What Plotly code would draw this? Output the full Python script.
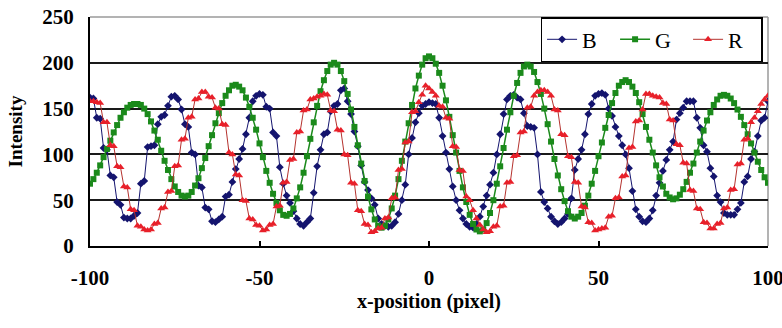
import plotly.graph_objects as go

x_pos = list(range(-100, 101))

blue_B = [
    162, 161, 140, 139, 107, 105, 77, 75, 48, 45,
    31, 30, 30, 33, 36, 68, 71, 108, 109, 110,
    133, 141, 143, 153, 163, 164, 160, 149, 133, 130,
    102, 100, 66, 64, 42, 40, 27, 26, 29, 32,
    54, 56, 70, 84, 95, 106, 122, 140, 158, 164,
    166, 165, 152, 150, 124, 120, 86, 68, 55, 47,
    38, 30, 24, 22, 26, 30, 58, 87, 105, 122,
    124, 147, 153, 155, 170, 172, 158, 144, 125, 109,
    88, 70, 61, 52, 45, 30, 24, 22, 21, 22,
    26, 35, 50, 67, 100, 118, 135, 145, 153, 155,
    157,
    156, 155, 140, 120, 102, 84, 65, 50, 39, 30,
    24, 21, 20, 24, 32, 43, 55, 67, 80, 100,
    122, 144, 160, 164, 165, 162, 160, 145, 131, 130,
    129, 100, 59, 48, 41, 32, 27, 24, 26, 30,
    35, 52, 83, 95, 105, 122, 144, 155, 164, 166,
    167, 165, 150, 142, 130, 120, 110, 100, 85, 60,
    40, 32, 27, 26, 30, 39, 55, 69, 82, 94,
    105, 114, 138, 145, 151, 158, 158, 158, 140, 129,
    110, 103, 85, 76, 55, 48, 36, 34, 34, 34,
    40, 47, 70, 76, 95, 103, 120, 137, 140, 158,
]

green_G = [
    68, 73, 80, 88, 97, 106, 115, 124, 132, 140,
    146, 151, 154, 155, 155, 154, 150, 144, 136, 126,
    116, 104, 93, 83, 73, 65, 59, 55, 54, 55,
    59, 66, 74, 85, 96, 109, 121, 134, 145, 156,
    164, 170, 175, 176, 174, 170, 162, 152, 140, 127,
    112, 97, 82, 69, 57, 47, 39, 34, 33, 35,
    41, 52, 64, 80, 98, 117, 135, 153, 169, 181,
    191, 198, 200, 198, 191, 180, 166, 149, 130, 110,
    90, 71, 54, 40, 29, 22, 20, 22, 29, 41,
    55, 73, 93, 114, 134, 154, 172, 186, 198, 205,
    207,
    205, 199, 189, 175, 159, 141, 121, 102, 82, 64,
    48, 34, 24, 18, 16, 18, 25, 36, 50, 68,
    87, 107, 127, 146, 164, 178, 189, 196, 198, 196,
    190, 179, 166, 150, 133, 114, 95, 77, 62, 49,
    38, 32, 30, 32, 36, 44, 55, 68, 82, 98,
    113, 129, 143, 156, 167, 175, 179, 181, 179, 174,
    167, 157, 144, 130, 116, 102, 88, 75, 65, 57,
    53, 51, 52, 56, 62, 70, 80, 90, 102, 114,
    126, 137, 146, 154, 160, 164, 165, 164, 161, 156,
    149, 141, 132, 122, 112, 102, 92, 83, 75, 69,
]

red_R = [
    158, 158, 157, 156, 135, 135, 110, 109, 87, 86,
    65, 64, 40, 39, 22, 21, 18, 17, 18, 24,
    25, 41, 42, 59, 60, 87, 88, 116, 117, 140,
    141, 160, 161, 168, 168, 163, 162, 151, 150, 133,
    132, 102, 100, 78, 77, 50, 49, 30, 29, 23,
    22, 17, 18, 23, 24, 43, 44, 69, 70, 94,
    95, 124, 125, 148, 149, 160, 161, 163, 164, 166,
    165, 148, 147, 127, 126, 100, 99, 69, 68, 39,
    38, 24, 23, 15, 16, 19, 20, 30, 31, 52,
    53, 83, 84, 113, 114, 146, 147, 157, 165, 175,
    172,
    168, 164, 153, 152, 140, 139, 109, 108, 83, 82,
    54, 50, 39, 30, 23, 18, 15, 16, 21, 22,
    43, 44, 69, 70, 98, 99, 124, 125, 151, 152,
    164, 168, 170, 170, 168, 164, 149, 148, 122, 121,
    98, 97, 70, 69, 43, 42, 26, 25, 17, 18,
    19, 20, 32, 33, 52, 53, 76, 77, 107, 108,
    136, 137, 149, 166, 166, 164, 163, 162, 156, 155,
    138, 137, 111, 110, 91, 90, 61, 60, 41, 40,
    26, 25, 19, 19, 24, 25, 41, 42, 61, 62,
    89, 90, 116, 117, 135, 140, 147, 155, 160, 164,
]

series_names = ["B", "G", "R"]
y_ticks = [0, 50, 100, 150, 200, 250]
x_ticks = [-100, -50, 0, 50, 100]
x_title = "x-position (pixel)"
y_title = "Intensity"

assert len(blue_B) == len(green_G) == len(red_R) == len(x_pos)

SERIF = "Liberation Serif, Times New Roman, serif"

fig = go.Figure()
fig.add_trace(go.Scatter(
    x=x_pos, y=blue_B, name=series_names[0], mode="lines+markers",
    line=dict(color="#14146e", width=1),
    marker=dict(symbol="diamond", size=6, color="#14146e"),
))
fig.add_trace(go.Scatter(
    x=x_pos, y=green_G, name=series_names[1], mode="lines+markers",
    line=dict(color="#1b8a1b", width=1.5),
    marker=dict(symbol="square", size=6, color="#1b8a1b"),
))
fig.add_trace(go.Scatter(
    x=x_pos, y=red_R, name=series_names[2], mode="lines+markers",
    line=dict(color="#b5322e", width=1),
    marker=dict(symbol="triangle-up", size=7, color="#e8202a"),
))

fig.update_layout(
    width=782, height=328,
    margin=dict(l=90, r=14, t=17, b=82, autoexpand=False),
    paper_bgcolor="white", plot_bgcolor="white",
    font=dict(family=SERIF, color="black"),
    showlegend=True,
    legend=dict(
        orientation="h", x=0.992, xanchor="right", y=1.0, yanchor="top",
        bgcolor="white", bordercolor="black", borderwidth=1.5,
        font=dict(family=SERIF, size=22, color="black"),
        entrywidth=28, itemwidth=30, tracegroupgap=0,
    ),
    xaxis=dict(
        range=[-100, 100], tickvals=x_ticks, ticktext=[str(v) for v in x_ticks],
        showgrid=False, zeroline=False, automargin=False,
        showline=True, linecolor="black", linewidth=2, mirror=False,
        ticks="inside", ticklen=5, tickcolor="black", tickwidth=1.5,
        tickfont=dict(family=SERIF, size=21, weight="bold"),
        ticklabelstandoff=12, ticklabeloverflow="allow",
    ),
    yaxis=dict(
        range=[0, 250], tickvals=y_ticks, ticktext=[str(v) for v in y_ticks],
        showgrid=True, gridcolor="#1a1a1a", gridwidth=1.5, zeroline=False, automargin=False,
        showline=True, linecolor="black", linewidth=2,
        ticks="", tickfont=dict(family=SERIF, size=21, weight="bold"),
        ticklabelstandoff=10, ticklabeloverflow="allow",
        title=dict(text=y_title, font=dict(family=SERIF, size=19, weight="bold")),
    ),
)

fig.add_annotation(
    text=x_title, xref="paper", yref="paper", x=0.5, y=0,
    xanchor="center", yanchor="middle", yshift=-55, showarrow=False,
    font=dict(family=SERIF, size=20, weight="bold", color="black"),
)

# light frame on top/right of plot area
fig.add_shape(type="line", xref="paper", yref="paper", x0=0, x1=1, y0=1, y1=1,
              line=dict(color="#9a9a9a", width=1.5), layer="below")
fig.add_shape(type="line", xref="paper", yref="paper", x0=1, x1=1, y0=0, y1=1,
              line=dict(color="#9a9a9a", width=1.5), layer="below")

# remove the default 8px page margin so the figure fills the window exactly
fig.write_html(
    "out.html",
    config={"displayModeBar": False},
    post_script="document.body.style.margin='0';document.body.style.overflow='hidden';",
)
